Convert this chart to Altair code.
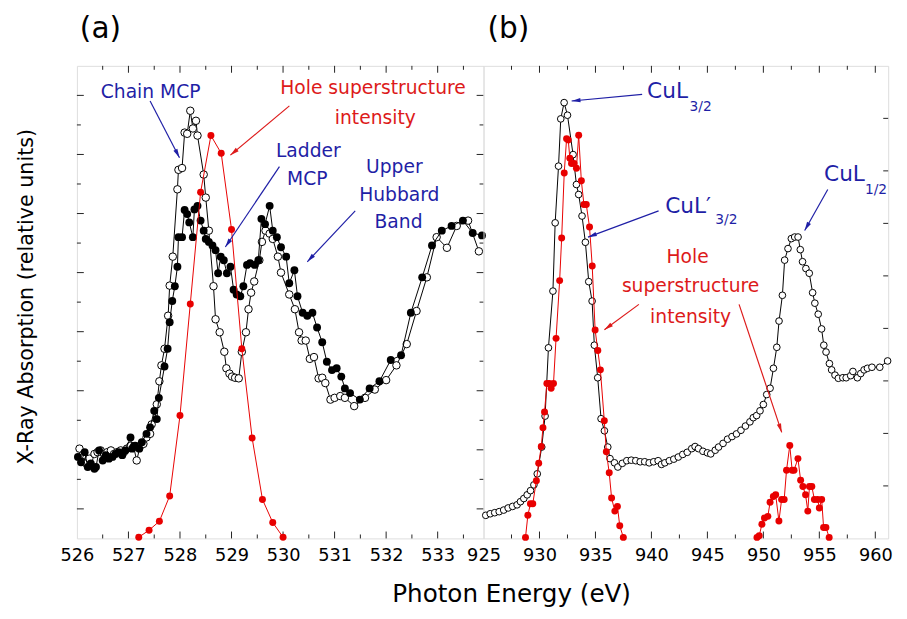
import math
import altair as alt
import pandas as pd

FONT = "DejaVu Sans"
BLUE = "#1f1fa6"
RED = "#dd1a1a"
DATA_RED = "#e80000"
FRAME = "#222222"

# ---------------- panel (a): O K-edge ----------------
a_open_E = [526.05, 526.11, 526.18, 526.24, 526.34, 526.40, 526.46, 526.53, 526.59, 526.66,
            526.72, 526.78, 526.85, 526.91, 526.97, 527.04, 527.10, 527.16, 527.23, 527.29,
            527.35, 527.42, 527.45, 527.55, 527.60, 527.64, 527.70, 527.77, 527.80, 527.86,
            527.95, 527.97, 528.04, 528.09, 528.14, 528.20, 528.25, 528.31, 528.34, 528.46,
            528.50, 528.56, 528.65, 528.69, 528.77, 528.86, 528.90, 528.96, 529.01, 529.07,
            529.14, 529.20, 529.28, 529.33, 529.38, 529.44, 529.54, 529.59, 529.66, 529.74,
            529.80, 529.90, 529.96, 530.12, 530.23, 530.31, 530.36, 530.44, 530.52, 530.60,
            530.69, 530.76, 530.82, 530.92, 531.00, 531.11, 531.20, 531.38, 531.59, 531.78,
            532.00, 532.20, 532.40, 532.59, 532.79, 532.98, 533.18, 533.37, 533.59, 533.80]
a_open_y = [1.52, 1.41, 1.27, 1.35, 1.43, 1.46, 1.49, 1.43, 1.46, 1.49,
            1.43, 1.46, 1.49, 1.46, 1.52, 1.57, 1.55, 1.32, 1.57, 1.60,
            1.71, 1.77, 1.93, 2.27, 2.66, 2.93, 3.21, 3.77, 4.28, 4.77,
            5.91, 6.24, 6.27, 6.87, 6.85, 7.24, 6.94, 7.07, 6.82, 6.16,
            5.77, 5.21, 4.27, 3.71, 3.49, 3.16, 2.88, 2.79, 2.74, 2.72,
            2.71, 3.16, 3.49, 3.88, 4.16, 4.35, 4.71, 5.02, 5.21, 5.16,
            5.07, 4.77, 4.50, 4.13, 3.88, 3.49, 3.35, 3.35, 3.04, 3.07,
            2.71, 2.72, 2.63, 2.35, 2.38, 2.41, 2.38, 2.24, 2.38, 2.52,
            2.68, 2.93, 3.29, 3.85, 4.42, 5.10, 4.92, 5.29, 5.38, 4.86]

a_fill_E = [526.02, 526.08, 526.15, 526.21, 526.27, 526.34, 526.37, 526.43, 526.50, 526.56,
            526.62, 526.69, 526.75, 526.81, 526.88, 526.94, 527.04, 527.07, 527.13, 527.21,
            527.26, 527.35, 527.42, 527.50, 527.55, 527.59, 527.70, 527.76, 527.80, 527.85,
            527.90, 527.95, 527.97, 528.04, 528.09, 528.14, 528.18, 528.25, 528.28, 528.34,
            528.40, 528.46, 528.50, 528.56, 528.63, 528.69, 528.74, 528.79, 528.85, 528.91,
            528.98, 529.04, 529.10, 529.17, 529.23, 529.30, 529.36, 529.45, 529.52, 529.58,
            529.65, 529.74, 529.80, 529.88, 529.96, 530.06, 530.12, 530.22, 530.28, 530.38,
            530.47, 530.57, 530.66, 530.76, 530.85, 530.95, 531.04, 531.13, 531.20, 531.30,
            531.49, 531.68, 531.87, 532.09, 532.29, 532.48, 532.70, 532.89, 533.08, 533.27,
            533.49, 533.68, 533.86]
a_fill_y = [1.38, 1.29, 1.46, 1.21, 1.27, 1.18, 1.21, 1.49, 1.32, 1.41,
            1.35, 1.38, 1.43, 1.46, 1.41, 1.49, 1.71, 1.52, 1.57, 1.52,
            1.63, 1.77, 1.88, 2.16, 2.02, 2.38, 2.91, 3.21, 3.66, 4.02,
            4.27, 4.60, 5.10, 5.10, 5.56, 5.49, 5.35, 5.10, 5.57, 5.63,
            5.38, 5.21, 5.07, 5.02, 4.96, 4.88, 4.49, 4.77, 4.71, 4.49,
            4.60, 4.21, 4.13, 4.10, 4.27, 4.63, 4.66, 4.63, 4.71, 5.41,
            5.32, 5.63, 5.21, 5.10, 4.93, 4.77, 4.32, 4.54, 4.10, 3.82,
            3.77, 3.82, 3.57, 3.32, 2.99, 2.85, 2.88, 2.74, 2.54, 2.46,
            2.35, 2.54, 2.66, 3.02, 3.10, 3.82, 4.42, 4.96, 5.21, 5.29,
            5.38, 5.17, 5.13]

a_red_E = [527.2, 527.4, 527.6, 527.8, 528.0, 528.2, 528.4, 528.6, 528.8, 529.0,
           529.2, 529.4, 529.6, 529.8, 530.0]
a_red_y = [0.02, 0.14, 0.29, 0.72, 2.08, 3.97, 5.86, 6.82, 6.52, 5.23,
           3.21, 1.70, 0.66, 0.27, 0.02]

# ---------------- panel (b): Cu L-edge ----------------
b_open_E = [925.2, 925.6, 926.0, 926.4, 926.8, 927.2, 927.6, 928.0, 928.3, 928.6,
            928.9, 929.2, 929.5, 929.8, 930.2, 930.5, 930.8, 931.2, 931.4, 931.7,
            931.9, 932.2, 932.5, 933.0, 933.3, 933.5, 933.8, 934.1, 934.4, 934.7,
            934.9, 935.2, 935.5, 935.8, 936.1, 936.3, 936.7, 937.0, 937.4, 937.8,
            938.2, 938.6, 939.0, 939.4, 939.8, 940.2, 940.6, 940.9, 941.2, 941.6,
            942.0, 942.4, 942.8, 943.2, 943.6, 943.9, 944.2, 944.6, 945.0, 945.3,
            945.7, 946.0, 946.4, 946.8, 947.2, 947.6, 948.0, 948.4, 948.8, 949.1,
            949.4, 949.7, 950.0, 950.3, 950.6, 950.9, 951.2, 951.4, 951.7, 951.9,
            952.2, 952.5, 952.8, 953.1, 953.3, 953.5, 953.8, 954.1, 954.4, 954.6,
            954.9, 955.2, 955.4, 955.6, 955.9, 956.1, 956.4, 956.7, 957.1, 957.4,
            957.8, 958.0, 958.4, 958.7, 959.0, 959.3, 959.7, 960.4, 961.1]
b_open_y = [0.44, 0.47, 0.49, 0.51, 0.54, 0.58, 0.61, 0.64, 0.70, 0.76,
            0.83, 0.91, 1.02, 1.23, 1.74, 2.33, 3.63, 4.71, 6.01, 7.09,
            7.99, 8.30, 8.06, 7.31, 6.74, 6.55, 6.14, 5.64, 4.89, 4.52,
            3.68, 3.06, 2.28, 2.05, 1.74, 1.52, 1.44, 1.36, 1.43, 1.48,
            1.49, 1.48, 1.46, 1.46, 1.44, 1.46, 1.48, 1.41, 1.44, 1.48,
            1.51, 1.55, 1.60, 1.64, 1.71, 1.75, 1.71, 1.66, 1.63, 1.61,
            1.68, 1.74, 1.81, 1.89, 1.94, 1.99, 2.06, 2.14, 2.22, 2.30,
            2.34, 2.43, 2.55, 2.74, 2.86, 3.24, 3.64, 4.14, 4.63, 5.30,
            5.52, 5.71, 5.74, 5.74, 5.50, 5.27, 5.14, 5.05, 4.68, 4.48,
            4.27, 3.99, 3.68, 3.55, 3.33, 3.21, 3.11, 3.05, 3.06, 3.06,
            3.10, 3.18, 3.06, 3.14, 3.21, 3.24, 3.26, 3.26, 3.38]

b_red_E = [928.75, 928.96, 929.19, 929.40, 929.72, 929.93, 930.16, 930.31, 930.45, 930.66,
           930.87, 931.04, 931.25, 931.48, 931.80, 931.98, 932.21, 932.42, 932.57, 932.71,
           932.86, 933.09, 933.30, 933.50, 933.74, 933.97, 934.18, 934.47, 934.71, 934.97,
           935.21, 935.44, 935.79, 935.97, 936.23, 936.44, 936.73, 936.96, 937.17, 937.49,
           949.43, 949.63, 949.87, 950.10, 950.40, 950.60, 950.89, 951.10, 951.39, 951.63,
           951.86, 952.07, 952.36, 952.57, 952.74, 953.09, 953.33, 953.53, 953.77, 953.97,
           954.12, 954.33, 954.56, 954.85, 955.00, 955.21, 955.38, 955.59, 955.88]
b_red_y = [0.02, 0.44, 0.66, 0.66, 1.10, 1.43, 1.75, 2.11, 2.41, 2.95,
           2.95, 2.86, 2.95, 3.81, 4.91, 5.72, 6.96, 7.61, 7.59, 7.24,
           7.14, 7.14, 7.05, 7.68, 6.81, 6.36, 6.36, 5.93, 5.19, 3.97,
           3.58, 3.21, 2.24, 1.65, 1.25, 0.77, 0.52, 0.61, 0.24, 0.02,
           0.02, 0.05, 0.27, 0.39, 0.42, 0.69, 0.80, 0.83, 0.33, 0.74,
           0.74, 1.30, 1.77, 1.30, 1.30, 1.52, 1.11, 0.99, 0.83, 0.52,
           0.99, 0.99, 0.74, 0.74, 0.58, 0.74, 0.21, 0.21, 0.02]
b_red_group = [1] * 40 + [2] * 29

# ---------------- axes / ticks ----------------
a_xlabels = [526, 527, 528, 529, 530, 531, 532, 533]
a_xmajor = [527, 528, 529, 530, 531, 532, 533]
a_xminor = [526.5, 527.5, 528.5, 529.5, 530.5, 531.5, 532.5, 533.5]
a_ymajor = [0.5, 1.5, 2.5, 3.5, 4.5, 5.5, 6.5, 7.5]
a_yminor = [1, 2, 3, 4, 5, 6, 7]
b_xlabels = [925, 930, 935, 940, 945, 950, 955, 960]
b_xmajor = [930, 935, 940, 945, 950, 955, 960]
b_xminor = [927.5, 932.5, 937.5, 942.5, 947.5, 952.5, 957.5]
b_yticks = [1, 2, 3, 4, 5, 6, 7, 8]

# ---------------- annotations ----------------
panel_labels = ["(a)", "(b)"]
a_ann_text = ["Chain MCP", "Hole superstructure", "intensity", "Ladder", "MCP", "Upper", "Hubbard", "Band"]
a_ann_E = [527.43, 531.745, 531.79, 530.49, 530.47, 532.16, 532.255, 532.24]
a_ann_y = [7.46, 7.517, 7.017, 6.46, 5.99, 6.183, 5.71, 5.26]
a_ann_col = ["blue", "red", "red", "blue", "blue", "blue", "blue", "blue"]
a_arr_E1 = [527.42, 530.123, 529.93, 531.40]
a_arr_y1 = [7.405, 7.322, 6.295, 5.545]
a_arr_E2 = [527.99, 528.978, 528.88, 530.47]
a_arr_y2 = [6.445, 6.488, 4.933, 4.683]
a_arr_col = ["blue", "red", "blue", "blue"]

b_ann_text = ["Hole", "superstructure", "intensity"]
b_ann_E = [943.23, 943.50, 943.50]
b_ann_y = [5.237, 4.688, 4.112]
b_cu_text = ["CuL", "CuL\u2032", "CuL"]
b_cu_E = [939.61, 941.23, 955.42]
b_cu_y = [8.395, 6.207, 6.80]
b_sub_text = ["3/2", "3/2", "1/2"]
b_sub_E = [943.40, 945.70, 959.07]
b_sub_y = [8.144, 5.987, 6.563]
b_arr_E1 = [939.17, 940.64, 955.75, 938.88, 947.83]
b_arr_y1 = [8.457, 6.238, 6.644, 4.457, 4.457]
b_arr_E2 = [932.87, 934.33, 953.69, 935.80, 951.64]
b_arr_y2 = [8.331, 5.738, 5.864, 3.975, 2.019]
b_arr_col = ["blue", "blue", "blue", "red", "red"]

# ---------------- layout ----------------
WA, WB, H = 413, 411, 480
A_DOM = [526, 533.89]
B_DOM = [925, 961.15]
A_YDOM = [0, 8]
B_YDOM = [0, 9]

colscale = alt.Scale(domain=["blue", "red"], range=[BLUE, RED])
ARROW = "M0,0L-0.45,1.8L0.45,1.8Z"


def panel(xs, ys, ax, ay, width, parts, ticks_x, ticks_y, left_ticks, label, dx, psize):
    xdom, ydom = xs.domain, ys.domain
    pxE = width / (xdom[1] - xdom[0])
    pxY = H / (ydom[1] - ydom[0])

    def X(f):
        return alt.X(f, type="quantitative", scale=xs, axis=ax)

    def Y(f):
        return alt.Y(f, type="quantitative", scale=ys, axis=ay)

    layers = []
    for vals, ln in ticks_x:
        d = pd.DataFrame({"v": vals})
        layers.append(alt.Chart(d).mark_rule(color=FRAME, strokeWidth=1).encode(
            x=X("v"), y=alt.value(H), y2=alt.value(H - ln)))
        layers.append(alt.Chart(d).mark_rule(color=FRAME, strokeWidth=1).encode(
            x=X("v"), y=alt.value(0), y2=alt.value(ln)))
    for vals, ln in ticks_y:
        d = pd.DataFrame({"v": vals})
        if left_ticks:
            layers.append(alt.Chart(d).mark_rule(color=FRAME, strokeWidth=1).encode(
                y=Y("v"), x=alt.value(0), x2=alt.value(ln)))
        layers.append(alt.Chart(d).mark_rule(color=FRAME, strokeWidth=1).encode(
            y=Y("v"), x=alt.value(width), x2=alt.value(width - ln)))

    for kind, df in parts:
        if kind == "open":
            layers.append(alt.Chart(df).mark_line(color="black", strokeWidth=1).encode(x=X("E"), y=Y("y")))
            layers.append(alt.Chart(df).mark_point(shape="circle", filled=True, fill="white", stroke="black",
                                                   strokeWidth=1, size=psize, opacity=1).encode(x=X("E"), y=Y("y")))
        elif kind == "fill":
            layers.append(alt.Chart(df).mark_line(color="black", strokeWidth=1).encode(x=X("E"), y=Y("y")))
            layers.append(alt.Chart(df).mark_point(shape="circle", filled=True, color="black",
                                                   size=psize + 6, opacity=1).encode(x=X("E"), y=Y("y")))
        elif kind == "red":
            layers.append(alt.Chart(df).mark_line(color=DATA_RED, strokeWidth=1).encode(
                x=X("E"), y=Y("y"), detail="g:N"))
            layers.append(alt.Chart(df).mark_point(shape="circle", filled=True, color=DATA_RED,
                                                   size=50, opacity=1).encode(x=X("E"), y=Y("y")))
        elif kind == "arrows":
            df = df.copy()
            dxp = (df["E2"] - df["E1"]) * pxE
            dyp = -(df["y2"] - df["y1"]) * pxY
            df["ang"] = [(math.degrees(math.atan2(a, -b)) + 360) % 360 for a, b in zip(dxp, dyp)]
            layers.append(alt.Chart(df).mark_rule(strokeWidth=1.2).encode(
                x=X("E1"), y=Y("y1"), x2="E2", y2="y2",
                color=alt.Color("c:N", scale=colscale, legend=None)))
            layers.append(alt.Chart(df).mark_point(shape=ARROW, filled=True, size=100, opacity=1).encode(
                x=X("E2"), y=Y("y2"), angle=alt.Angle("ang:Q", scale=None),
                color=alt.Color("c:N", scale=colscale, legend=None)))
        elif kind.startswith("text"):
            _, align, size = kind.split("|")
            layers.append(alt.Chart(df).mark_text(align=align, baseline="alphabetic", font=FONT,
                                                  fontSize=int(size)).encode(
                x=X("E"), y=Y("y"), text="t:N",
                color=alt.Color("c:N", scale=colscale, legend=None)))

    # panel label "(a)" / "(b)" above the frame
    layers.append(alt.Chart(pd.DataFrame({"t": [label]})).mark_text(
        align="left", baseline="alphabetic", font=FONT, fontSize=30, color="black").encode(
        x=alt.value(dx), y=alt.value(-28), text="t:N"))

    return alt.layer(*layers).properties(width=width, height=H)


xa = alt.Scale(domain=A_DOM, nice=False, zero=False)
ya = alt.Scale(domain=A_YDOM, nice=False, zero=False)
xb = alt.Scale(domain=B_DOM, nice=False, zero=False)
yb = alt.Scale(domain=B_YDOM, nice=False, zero=False)

ax_a = alt.Axis(values=a_xlabels, format="d", ticks=False, tickSize=0, domain=False, grid=False,
                labelFont=FONT, labelFontSize=18, labelPadding=8, labelFlush=False, labelOverlap=False,
                labelColor="black", title="Photon Energy (eV)", titleFont=FONT, titleFontSize=25,
                titleFontWeight="normal", titleColor="black", titleX=441, titleY=64,
                titleBaseline="alphabetic", titleAlign="center")
ay_a = alt.Axis(labels=False, ticks=False, tickSize=0, domain=False, grid=False,
                title="X-Ray Absorption (relative units)", titleFont=FONT, titleFontSize=21,
                titleFontWeight="normal", titleColor="black", titleX=-51, titleY=234,
                titleAngle=270, titleBaseline="middle", titleAlign="center")
ax_b = alt.Axis(values=b_xlabels, format="d", ticks=False, tickSize=0, domain=False, grid=False,
                labelFont=FONT, labelFontSize=18, labelPadding=8, labelFlush=False, labelOverlap=False,
                labelColor="black", title="")

df_a_open = pd.DataFrame({"E": a_open_E, "y": a_open_y})
df_a_fill = pd.DataFrame({"E": a_fill_E, "y": a_fill_y})
df_a_red = pd.DataFrame({"E": a_red_E, "y": a_red_y, "g": [1] * len(a_red_E)})
df_a_ann = pd.DataFrame({"E": a_ann_E, "y": a_ann_y, "t": a_ann_text, "c": a_ann_col})
df_a_arr = pd.DataFrame({"E1": a_arr_E1, "y1": a_arr_y1, "E2": a_arr_E2, "y2": a_arr_y2, "c": a_arr_col})

df_b_open = pd.DataFrame({"E": b_open_E, "y": b_open_y})
df_b_red = pd.DataFrame({"E": b_red_E, "y": b_red_y, "g": b_red_group})
df_b_ann = pd.DataFrame({"E": b_ann_E, "y": b_ann_y, "t": b_ann_text, "c": ["red"] * 3})
df_b_cu = pd.DataFrame({"E": b_cu_E, "y": b_cu_y, "t": b_cu_text, "c": ["blue"] * 3})
df_b_sub = pd.DataFrame({"E": b_sub_E, "y": b_sub_y, "t": b_sub_text, "c": ["blue"] * 3})
df_b_arr = pd.DataFrame({"E1": b_arr_E1, "y1": b_arr_y1, "E2": b_arr_E2, "y2": b_arr_y2, "c": b_arr_col})

pa = panel(xa, ya, ax_a, ay_a, WA,
           [("open", df_a_open), ("fill", df_a_fill), ("red", df_a_red),
            ("arrows", df_a_arr), ("text|center|19", df_a_ann)],
           [(a_xmajor, 7), (a_xminor, 4)], [(a_ymajor, 7), (a_yminor, 4)], True,
           panel_labels[0], 3, 58)

pb = panel(xb, yb, ax_b, None, WB,
           [("open", df_b_open), ("red", df_b_red), ("arrows", df_b_arr),
            ("text|center|19", df_b_ann), ("text|left|22", df_b_cu), ("text|left|14", df_b_sub)],
           [(b_xmajor, 7), (b_xminor, 4)], [(b_yticks, 5)], False,
           panel_labels[1], 4, 46)

chart = alt.hconcat(pa, pb, spacing=0, bounds="flush").properties(
    padding={"left": 7, "top": 1, "right": 5, "bottom": 2}
).configure_view(stroke=FRAME, strokeWidth=1.2).configure(background="white")

chart.save("out.html", embed_options={"renderer": "svg", "actions": False})
